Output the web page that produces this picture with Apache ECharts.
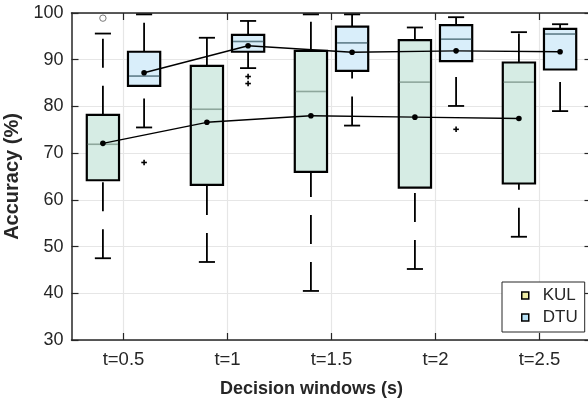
<!DOCTYPE html>
<html><head><meta charset="utf-8">
<script src="https://cdn.jsdelivr.net/npm/echarts@6/dist/echarts.min.js"></script>
<style>html,body{margin:0;padding:0;background:#fff}#c{width:588px;height:398px}</style>
</head><body><div id="c"></div>
<script>
const categories = ['t=0.5', 't=1', 't=1.5', 't=2', 't=2.5'];
const yTicks = [30, 40, 50, 60, 70, 80, 90, 100];

// KUL
const kulLow    = [47.5, 46.7, 40.5, 45.2, 52.1];
const kulQ1     = [64.2, 63.2, 66.0, 62.6, 63.5];
const kulMedian = [71.9, 79.4, 83.2, 85.2, 85.2];
const kulQ3     = [78.2, 88.7, 91.9, 94.2, 89.4];
const kulHigh   = [95.6, 94.7, 99.7, 96.9, 95.9];
const kulMean   = [72.1, 76.6, 78.0, 77.7, 77.4];
const kulOutliers = [[0, 98.9]];

// DTU
const dtuLow    = [75.5, 88.2, 75.9, 80.1, 79.0];
const dtuQ1     = [84.4, 91.7, 87.6, 89.7, 87.9];
const dtuMedian = [86.5, 93.9, 93.6, 94.4, 95.5];
const dtuQ3     = [91.7, 95.3, 97.1, 97.4, 96.6];
const dtuHigh   = [99.7, 98.3, 99.7, 99.1, 97.6];
const dtuMean   = [87.2, 93.0, 91.6, 91.9, 91.7];
const dtuOutliers = [[0, 68.0], [1, 86.4], [1, 84.9], [3, 75.1]];

const FONT = '"Liberation Sans", Arial, sans-serif';
const TXT = '#262626';

function boxSeries(name, low, q1, med, q3, high, mean, fill, medColor, side) {
  const data = categories.map((c, i) => [i, low[i], q1[i], med[i], q3[i], high[i], mean[i]]);
  return {
    type: 'custom', name: name, data: data,
    encode: { x: 0, y: [1, 2, 3, 4, 5, 6] },
    renderItem: function (params, api) {
      const i = api.value(0);
      const band = api.size([1, 0])[0];
      const off = side * band * 0.198;
      const bw = band * 0.31;
      const cw = band * 0.155;
      const cx = api.coord([i, 0])[0] + off;
      const y = v => api.coord([i, v])[1];
      const yl = y(api.value(1)), yq1 = y(api.value(2)), ym = y(api.value(3)),
            yq3 = y(api.value(4)), yh = y(api.value(5)), ymean = y(api.value(6));
      const wStyle = { stroke: '#000', lineWidth: 1.8, lineDash: [29, 18] };
      const sStyle = { stroke: '#000', lineWidth: 1.8 };
      const children = [
        { type: 'line', shape: { x1: cx, y1: yl, x2: cx, y2: yq1 }, style: wStyle },
        { type: 'line', shape: { x1: cx, y1: yq3, x2: cx, y2: yh }, style: wStyle },
        { type: 'line', shape: { x1: cx - cw / 2, y1: yl, x2: cx + cw / 2, y2: yl }, style: sStyle },
        { type: 'line', shape: { x1: cx - cw / 2, y1: yh, x2: cx + cw / 2, y2: yh }, style: sStyle },
        { type: 'rect', shape: { x: cx - bw / 2, y: yq3, width: bw, height: yq1 - yq3 },
          style: { fill: fill, stroke: '#000', lineWidth: 2.2 } },
        { type: 'line', shape: { x1: cx - bw / 2 + 1, y1: ym, x2: cx + bw / 2 - 1, y2: ym },
          style: { stroke: medColor, lineWidth: 1.6 } },
        { type: 'circle', shape: { cx: cx, cy: ymean, r: 2.8 }, style: { fill: '#000' }, z2: 20 }
      ];
      if (i < categories.length - 1) {
        const p = api.coord([i + 1, mean[i + 1]]);
        children.push({ type: 'line', shape: { x1: cx, y1: ymean, x2: p[0] + off, y2: p[1] },
          style: { stroke: '#000', lineWidth: 1.4 }, z2: 15 });
      }
      return { type: 'group', children: children };
    }
  };
}

function outlierSeries(name, pts, side, kind) {
  return {
    type: 'custom', name: name + '_out', data: pts,
    encode: { x: 0, y: 1 },
    renderItem: function (params, api) {
      const band = api.size([1, 0])[0];
      const p = api.coord([api.value(0), api.value(1)]);
      const x = p[0] + side * band * 0.198, yy = p[1];
      if (kind === 'circle') {
        return { type: 'circle', shape: { cx: x, cy: yy, r: 3.2 },
          style: { fill: '#fff', stroke: '#7a7a7a', lineWidth: 1 } };
      }
      return { type: 'group', children: [
        { type: 'line', shape: { x1: x - 2.8, y1: yy, x2: x + 2.8, y2: yy }, style: { stroke: '#000', lineWidth: 1.6 } },
        { type: 'line', shape: { x1: x, y1: yy - 2.8, x2: x, y2: yy + 2.8 }, style: { stroke: '#000', lineWidth: 1.6 } }
      ] };
    }
  };
}

const chart = echarts.init(document.getElementById('c'), null, { renderer: 'canvas' });
chart.setOption({
  animation: false,
  backgroundColor: '#fff',
  textStyle: { fontFamily: FONT },
  grid: { left: 71.5, top: 13, width: 520, height: 327, containLabel: false, outerBoundsMode: 'none' },
  legend: {
    orient: 'vertical', left: 502, top: 282,
    padding: [5, 7, 6, 19], itemGap: 5,
    itemWidth: 7, itemHeight: 7, icon: 'rect',
    borderColor: '#262626', borderWidth: 1, backgroundColor: '#fff',
    textStyle: { fontFamily: FONT, fontSize: 17, color: TXT, padding: [0, 0, 0, 9] },
    data: [
      { name: 'KUL', itemStyle: { color: '#efeda6', borderColor: '#000', borderWidth: 1.5 } },
      { name: 'DTU', itemStyle: { color: '#b8e2f6', borderColor: '#000', borderWidth: 1.5 } }
    ]
  },
  xAxis: [{
    type: 'category', data: categories, position: 'bottom',
    name: 'Decision windows (s)', nameLocation: 'middle', nameGap: 40,
    nameTextStyle: { fontFamily: FONT, fontSize: 18, fontWeight: 'bold', color: TXT, padding: [0, 40, 0, 0] },
    axisLine: { show: true, lineStyle: { color: '#262626', width: 1.5 } },
    axisTick: { show: true, inside: true, alignWithLabel: true, length: 7, lineStyle: { color: '#262626', width: 1.2 } },
    axisLabel: { fontFamily: FONT, fontSize: 18.5, color: TXT, margin: 10 },
    splitLine: { show: true, alignWithLabel: true, lineStyle: { color: '#e6e6e6', width: 1.2 } }
  }, {
    type: 'category', data: categories, position: 'top',
    axisLine: { show: true, lineStyle: { color: '#262626', width: 1.5 } },
    axisTick: { show: true, inside: true, alignWithLabel: true, length: 7, lineStyle: { color: '#262626', width: 1.2 } },
    axisLabel: { show: false }, splitLine: { show: false }
  }],
  yAxis: [{
    type: 'value', min: 30, max: 100, interval: 10, position: 'left',
    name: 'Accuracy (%)', nameLocation: 'middle', nameGap: 44, nameRotate: 90,
    nameTextStyle: { fontFamily: FONT, fontSize: 20, fontWeight: 'bold', color: TXT },
    axisLine: { show: true, lineStyle: { color: '#262626', width: 1.5 } },
    axisTick: { show: true, inside: true, length: 7, lineStyle: { color: '#262626', width: 1.2 } },
    axisLabel: { fontFamily: FONT, fontSize: 18, color: TXT, margin: 8 },
    splitLine: { show: true, lineStyle: { color: '#e6e6e6', width: 1.2 } }
  }, {
    type: 'value', min: 30, max: 100, interval: 10, position: 'right',
    axisLine: { show: true, lineStyle: { color: '#262626', width: 1.5 } },
    axisTick: { show: true, inside: true, length: 7, lineStyle: { color: '#262626', width: 1.2 } },
    axisLabel: { show: false }, splitLine: { show: false }
  }],
  series: [
    boxSeries('KUL', kulLow, kulQ1, kulMedian, kulQ3, kulHigh, kulMean, '#d6ece4', '#8ea79c', -1),
    boxSeries('DTU', dtuLow, dtuQ1, dtuMedian, dtuQ3, dtuHigh, dtuMean, '#d9eefa', '#5f7d89', 1),
    outlierSeries('KUL', kulOutliers, -1, 'circle'),
    outlierSeries('DTU', dtuOutliers, 1, 'plus')
  ]
});
</script>
</body></html>
